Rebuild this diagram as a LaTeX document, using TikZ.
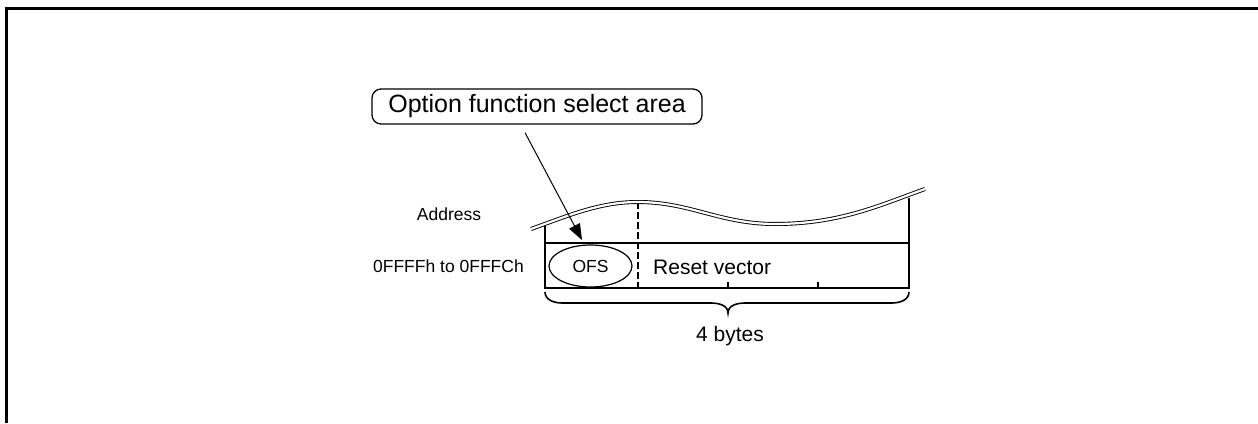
\documentclass[tikz,border=0pt]{standalone}
\usepackage{fontspec}
\setmainfont{Liberation Sans}
\usetikzlibrary{arrows.meta,shapes.geometric,calc}
\tikzset{
  lbl/.style={inner sep=0pt, font=\fontsize{17.5}{21}\selectfont},
  big/.style={inner sep=0pt, font=\fontsize{21}{25}\selectfont},
  thin/.style={line width=1.6pt},
  wave/.style={line width=0.9pt, double=white, double distance=2.2pt},
  callout/.style={draw, line width=1.3pt, rounded corners=9pt, minimum width=330pt, minimum height=35pt, inner sep=0pt, font=\fontsize{25}{30}\selectfont},
  ofsstyle/.style={draw, ellipse, line width=1.2pt, minimum width=83pt, minimum height=42pt, inner sep=0pt, font=\fontsize{17.5}{21}\selectfont},
  pointer/.style={line width=1pt, -{Triangle[length=16pt,width=12pt]}},
}
\begin{document}
\begin{tikzpicture}[x=1pt,y=-1pt]
\useasboundingbox (0,0) rectangle (1258,423);
% frame
\draw[line width=3pt] (1258,8.5) -- (6.5,8.5) -- (6.5,423);
% callout
\node[callout] (call) at (537,106.5) {Option function select area};
% memory box
\coordinate (bl) at (545,288);
\coordinate (br) at (909,288);
\draw[thin] (545,226) -- (bl) -- (br) -- (909,198);
\draw[thin] (545,243) -- (909,243);
\draw[line width=2.6pt, dash pattern=on 7pt off 3pt] (638,202) -- (638,288);
\draw[thin] (728,288) -- (728,282);
\draw[thin] (818,288) -- (818,282);
% wave
\draw[wave] (531,229) .. controls (570,215) and (600,202) .. (638,202)
  .. controls (690,202) and (720,224) .. (775,224)
  .. controls (840,224) and (880,205) .. (925,189);
% ofs ellipse
\node[ofsstyle] (ofs) at (590.5,266) {OFS};
% texts
\node[lbl] (addr) at (449,214) {Address};
\node[lbl, anchor=east] (range) at (524,266.5) {0FFFFh to 0FFFCh};
\node[big, anchor=west] (reset) at (653,267.5) {Reset vector};
% brace
\coordinate (tip) at (728,313);
\draw[thin] (545,292) to[out=-90,in=180] (562,303) -- (711,303) to[out=0,in=90] (tip)
  to[out=90,in=180] (745,303) -- (892,303) to[out=0,in=-90] (909,292);
\node[big] (bytes) at (730,336) {4 bytes};
% arrow
\coordinate (astart) at ($(call.south)+(-12,8)$);
\coordinate (aend) at (582,240);
\draw[pointer] (astart) -- (aend);
\end{tikzpicture}
\end{document}
